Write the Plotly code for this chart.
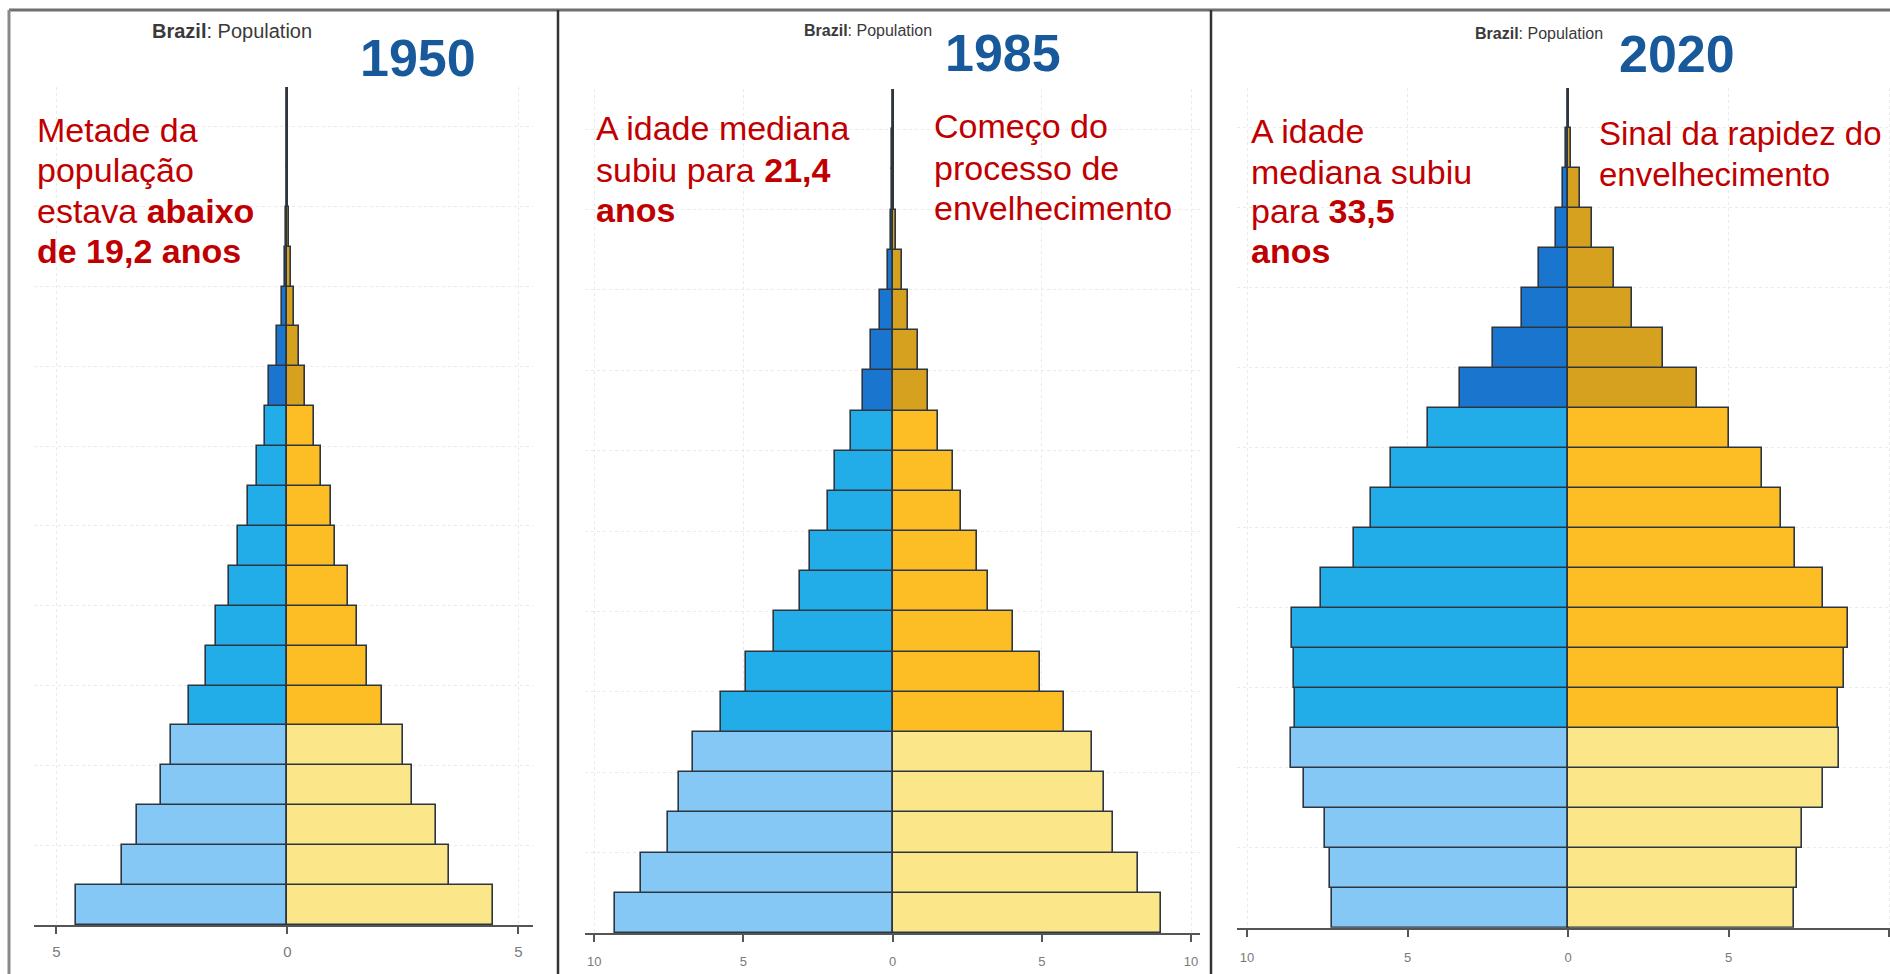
import plotly.graph_objects as go

W, H = 1890, 974

# ---------------- data (millions of people) ----------------
age_groups = ["0-4", "5-9", "10-14", "15-19", "20-24", "25-29", "30-34", "35-39",
              "40-44", "45-49", "50-54", "55-59", "60-64", "65-69", "70-74",
              "75-79", "80-84", "85-89", "90-94", "95-99", "100+"]
age_start = [0, 5, 10, 15, 20, 25, 30, 35, 40, 45, 50, 55, 60, 65, 70, 75, 80, 85, 90, 95, 100]

male_1950 = [4.57, 3.57, 3.26, 2.74, 2.52, 2.12, 1.76, 1.55, 1.27, 1.06, 0.85,
             0.66, 0.49, 0.39, 0.22, 0.12, 0.05, 0.02, 0.01, 0.003, 0.001]
female_1950 = [4.46, 3.50, 3.22, 2.69, 2.50, 2.06, 1.72, 1.51, 1.31, 1.04, 0.95,
               0.72, 0.58, 0.39, 0.26, 0.15, 0.07, 0.03, 0.01, 0.005, 0.001]

male_1985 = [9.30, 8.43, 7.53, 7.16, 6.69, 5.74, 4.90, 3.98, 3.10, 2.78, 2.17,
             1.93, 1.41, 0.99, 0.71, 0.43, 0.17, 0.07, 0.02, 0.005, 0.001]
female_1985 = [9.01, 8.21, 7.38, 7.09, 6.69, 5.75, 4.93, 4.03, 3.21, 2.83, 2.30,
               2.01, 1.52, 1.17, 0.84, 0.53, 0.32, 0.12, 0.04, 0.01, 0.002]

male_2020 = [7.35, 7.42, 7.56, 8.21, 8.63, 8.49, 8.55, 8.59, 7.70, 6.68, 6.14,
             5.50, 4.37, 3.35, 2.35, 1.44, 0.90, 0.38, 0.15, 0.05, 0.01]
female_2020 = [7.05, 7.12, 7.29, 7.94, 8.45, 8.41, 8.59, 8.73, 7.95, 7.07, 6.63,
               6.04, 5.02, 4.03, 2.95, 2.00, 1.42, 0.76, 0.37, 0.10, 0.02]

years = ["1950", "1985", "2020"]
tick_vals_1950 = [-5, 0, 5]
tick_text_1950 = ["5", "0", "5"]
tick_vals_wide = [-10, -5, 0, 5, 10]
tick_text_wide = ["10", "5", "0", "5", "10"]
grid_ages = [10, 20, 30, 40, 50, 60, 70, 80, 90, 100]

# age-band colour groups: young (0-24), working (25-64), old (65+)
group_of = ["young"] * 5 + ["work"] * 8 + ["old"] * 8
male_palette = {"young": "#86C8F5", "work": "#22ACE8", "old": "#1A75CF"}
female_palette = {"young": "#FBE68A", "work": "#FDBE25", "old": "#D6A11E"}

FONT = "Arial, Liberation Sans, sans-serif"
RED = "#C00000"
BLUE = "#17599A"
OUTLINE = "#2d3640"
GRID = "#eaeaea"

# ---------------- layout geometry (pixels) ----------------
panels = [
    dict(male=male_1950, female=female_1950, xpx=(34, 533), zero=287.3, unit=46.2,
         ytop=87, ybot=925, tv=tick_vals_1950, tt=tick_text_1950, tfs=15, stand=5),
    dict(male=male_1985, female=female_1985, xpx=(585, 1200), zero=892.6, unit=29.84,
         ytop=89, ybot=933, tv=tick_vals_wide, tt=tick_text_wide, tfs=13, stand=8),
    dict(male=male_2020, female=female_2020, xpx=(1237, 1890), zero=1568.0, unit=32.1,
         ytop=88, ybot=927.7, tv=tick_vals_wide, tt=tick_text_wide, tfs=13, stand=10),
]

fig = go.Figure()
age_mid = [a + 2.5 for a in age_start]

for i, p in enumerate(panels):
    sfx = "" if i == 0 else str(i + 1)
    fig.add_trace(go.Bar(
        y=age_mid, x=[-v for v in p["male"]], orientation="h", width=5,
        marker=dict(color=[male_palette[g] for g in group_of],
                    line=dict(color=OUTLINE, width=1.6)),
        xaxis="x" + sfx, yaxis="y" + sfx, showlegend=False,
        customdata=age_groups, hoverinfo="skip"))
    fig.add_trace(go.Bar(
        y=age_mid, x=p["female"], orientation="h", width=5,
        marker=dict(color=[female_palette[g] for g in group_of],
                    line=dict(color=OUTLINE, width=1.6)),
        xaxis="x" + sfx, yaxis="y" + sfx, showlegend=False,
        customdata=age_groups, hoverinfo="skip"))

    x0, x1 = p["xpx"]
    xr = [(x0 - p["zero"]) / p["unit"], (x1 - p["zero"]) / p["unit"]]
    fig.layout["xaxis" + sfx] = dict(
        domain=[x0 / W, x1 / W], range=xr, anchor="y" + sfx,
        showline=True, linecolor="#555555", linewidth=2,
        ticks="outside", ticklen=7, tickwidth=1.5, tickcolor="#555555",
        tickvals=p["tv"], ticktext=p["tt"],
        tickfont=dict(family=FONT, size=p["tfs"], color="#7a7a7a"),
        ticklabelstandoff=p["stand"],
        showgrid=True, gridcolor=GRID, griddash="dot", gridwidth=1,
        zeroline=True, zerolinecolor="#333333", zerolinewidth=1.5,
        fixedrange=True)
    fig.layout["yaxis" + sfx] = dict(
        domain=[1 - p["ybot"] / H, 1 - p["ytop"] / H], range=[0, 105],
        anchor="x" + sfx, showticklabels=False, ticks="",
        tickvals=grid_ages, showgrid=True, gridcolor=GRID, griddash="dot",
        gridwidth=1, zeroline=False, showline=False, fixedrange=True)

ann = []


def txt(text, xpx, ypx, size, color, xanchor="left", bold=False):
    ann.append(dict(text=("<b>%s</b>" % text) if bold else text,
                    x=xpx / W, y=1 - ypx / H, xref="paper", yref="paper",
                    xanchor=xanchor, yanchor="middle", showarrow=False,
                    font=dict(family=FONT, size=size, color=color)))


# chart titles
txt("<b>Brazil</b>: Population", 150, 31, 20, "#3a3a3a")
txt("<b>Brazil</b>: Population", 802, 31, 16, "#3a3a3a")
txt("<b>Brazil</b>: Population", 1473, 33, 16, "#3a3a3a")

# years
txt(years[0], 418, 58, 52, BLUE, xanchor="center", bold=True)
txt(years[1], 1003, 53, 52, BLUE, xanchor="center", bold=True)
txt(years[2], 1677, 54, 52, BLUE, xanchor="center", bold=True)

# red comments
for t, y in zip(["Metade da", "população", "estava <b>abaixo</b>", "<b>de 19,2 anos</b>"],
                [129.7, 169.7, 210.7, 251]):
    txt(t, 35, y, 34, RED)
for t, y in zip(["A idade mediana", "subiu para <b>21,4</b>", "<b>anos</b>"],
                [128, 169.7, 209.7]):
    txt(t, 594, y, 34, RED)
for t, y in zip(["Começo do", "processo de", "envelhecimento"],
                [126.3, 168, 208]):
    txt(t, 932, y, 34, RED)
for t, y in zip(["A idade", "mediana subiu", "para <b>33,5</b>", "<b>anos</b>"],
                [130.7, 172.3, 211.3, 251.3]):
    txt(t, 1249, y, 34, RED)
for t, y in zip(["Sinal da rapidez do", "envelhecimento"], [134, 174]):
    txt(t, 1597, y, 33, RED)

# panel frames
shapes = [
    dict(type="line", xref="paper", yref="paper", x0=9 / W, x1=1, y0=1 - 10 / H, y1=1 - 10 / H,
         line=dict(color="#6f6f6f", width=3)),
    dict(type="line", xref="paper", yref="paper", x0=9 / W, x1=9 / W, y0=0, y1=1 - 10 / H,
         line=dict(color="#8a8a8a", width=3)),
    dict(type="line", xref="paper", yref="paper", x0=558 / W, x1=558 / W, y0=0, y1=1 - 10 / H,
         line=dict(color="#333333", width=2.5)),
    dict(type="line", xref="paper", yref="paper", x0=1211 / W, x1=1211 / W, y0=0, y1=1 - 10 / H,
         line=dict(color="#333333", width=2.5)),
]

fig.update_layout(
    width=W, height=H, margin=dict(l=0, r=0, t=0, b=0),
    paper_bgcolor="white", plot_bgcolor="white",
    barmode="overlay", bargap=0,
    annotations=ann, shapes=shapes, showlegend=False,
)

fig.write_html("out.html", config={"displayModeBar": False},
               post_script="document.body.style.margin='0';document.body.style.overflow='hidden';")
